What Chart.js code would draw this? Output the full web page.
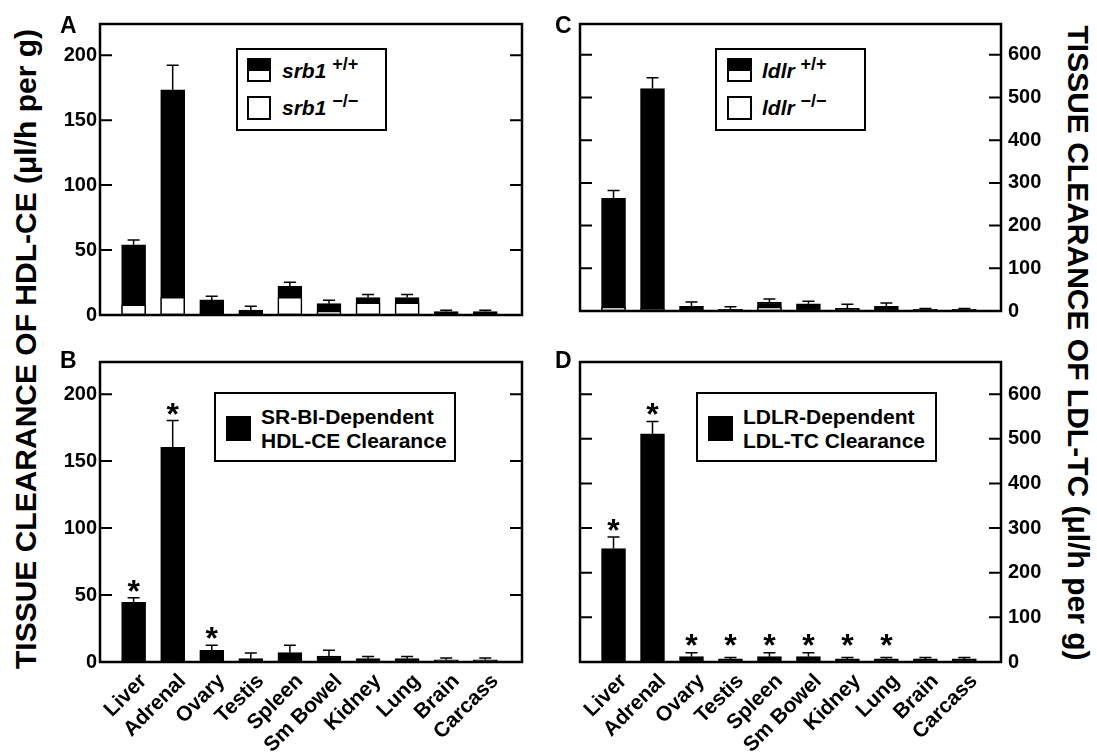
<!DOCTYPE html>
<html lang="en">
<head>
<meta charset="UTF-8" />
<title>Tissue clearance of HDL-CE and LDL-TC</title>
<script src="https://cdn.jsdelivr.net/npm/chart.js"></script>
<style>
  body { margin: 0; background: #fff; font-family: "Liberation Sans", Arial, sans-serif; color: #000; }
  #page { position: relative; width: 1097px; height: 755px; overflow: hidden; }
  canvas { position: absolute; }
  .letter { position: absolute; font-weight: bold; font-size: 23px; line-height: 1; }
  .ytitle { position: absolute; font-weight: bold; font-size: 30px; line-height: 30px; height: 30px;
            width: 700px; text-align: center; white-space: nowrap; }
  .box { position: absolute; border: 2px solid #000; box-sizing: border-box; background: #fff; }
  .sw { position: absolute; border: 2px solid #000; box-sizing: border-box; background: #fff; }
  .sw.half { background: linear-gradient(#000 0, #000 57%, #fff 57%); }
  .sw.full { background: #000; }
  .lt { position: absolute; font-weight: bold; font-size: 21px; line-height: 24px; white-space: nowrap; }
  .lt i sup { font-size: 18px; font-style: normal; vertical-align: 0; position: relative; top: -8px; }
</style>
</head>
<body>
<div id="page">
  <canvas id="chartA" width="490" height="330" style="left:50px;top:0px"></canvas>
  <canvas id="chartB" width="490" height="425" style="left:50px;top:330px"></canvas>
  <canvas id="chartC" width="491" height="330" style="left:560px;top:0px"></canvas>
  <canvas id="chartD" width="491" height="425" style="left:560px;top:330px"></canvas>

  <div class="letter" style="left:60px;top:14px">A</div>
  <div class="letter" style="left:60px;top:349px">B</div>
  <div class="letter" style="left:555px;top:14px">C</div>
  <div class="letter" style="left:555px;top:349px">D</div>

  <div class="ytitle" style="left:-324px;top:334px;transform:rotate(-90deg)">TISSUE CLEARANCE OF HDL-CE (μl/h per g)</div>
  <div class="ytitle" style="left:728px;top:328px;transform:rotate(90deg)">TISSUE CLEARANCE OF LDL-TC (μl/h per g)</div>

  <!-- legend A -->
  <div class="box" style="left:236px;top:48px;width:151px;height:83px"></div>
  <div class="sw half" style="left:247px;top:58px;width:24px;height:24px"></div>
  <div class="sw" style="left:247px;top:96px;width:24px;height:24px"></div>
  <div class="lt" style="left:282px;top:59px"><i>srb1 <sup>+/+</sup></i></div>
  <div class="lt" style="left:282px;top:96px"><i>srb1 <sup>−/−</sup></i></div>

  <!-- legend C -->
  <div class="box" style="left:715px;top:48px;width:151px;height:83px"></div>
  <div class="sw half" style="left:727px;top:58px;width:25px;height:24px"></div>
  <div class="sw" style="left:727px;top:96px;width:25px;height:24px"></div>
  <div class="lt" style="left:762px;top:59px"><i>ldlr <sup>+/+</sup></i></div>
  <div class="lt" style="left:762px;top:96px"><i>ldlr <sup>−/−</sup></i></div>

  <!-- legend B -->
  <div class="box" style="left:214px;top:392px;width:242px;height:70px"></div>
  <div class="sw full" style="left:226px;top:416px;width:25px;height:25px"></div>
  <div class="lt" style="left:261px;top:405px">SR-BI-Dependent<br>HDL-CE Clearance</div>

  <!-- legend D -->
  <div class="box" style="left:696px;top:392px;width:241px;height:70px"></div>
  <div class="sw full" style="left:708px;top:416px;width:25px;height:25px"></div>
  <div class="lt" style="left:743px;top:405px">LDLR-Dependent<br>LDL-TC Clearance</div>
</div>

<script>
const tissues = ['Liver', 'Adrenal', 'Ovary', 'Testis', 'Spleen', 'Sm Bowel', 'Kidney', 'Lung', 'Brain', 'Carcass'];

// A: HDL-CE clearance, srb1 +/+ (black) and srb1 -/- (white)
const srb1WT    = [54, 173.3, 11.6, 3.7, 22, 8.7, 13.4, 13.4, 2.7, 2.7];
const srb1WTsem = [3.7, 19, 2.8, 3, 3.2, 2.7, 2.4, 2.4, 1, 1];
const srb1KO    = [7.9, 13.6, 1.2, 1, 13.6, 3, 9.4, 9.4, 0.5, 0.5];

// B: SR-BI-dependent HDL-CE clearance
const srbiDep     = [44.6, 160.3, 8.7, 2.5, 7, 4.5, 2.5, 2.5, 1.7, 1.7];
const srbiDepSem  = [3.4, 20, 3.9, 4.2, 5.6, 4.2, 1.7, 1.7, 1.3, 1.3];
const srbiDepStar = [1, 1, 1, 0, 0, 0, 0, 0, 0, 0];

// C: LDL-TC clearance, ldlr +/+ (black) and ldlr -/- (white)
const ldlrWT    = [264, 521, 11, 4, 21, 17, 6, 11, 4, 4];
const ldlrWTsem = [18, 25, 10, 6, 7, 6, 10, 8, 2, 2];
const ldlrKO    = [9, 4.5, 2, 3, 9, 1, 3, 1, 1, 1];

// D: LDLR-dependent LDL-TC clearance
const ldlrDep     = [254, 511, 12, 7, 12, 12, 7, 7, 7, 7];
const ldlrDepSem  = [26, 28, 9, 3, 9, 9, 3, 3, 3, 3];
const ldlrDepStar = [1, 1, 1, 1, 1, 1, 1, 1, 0, 0];

const hdlMax = 224, hdlStep = 50;
const ldlMax = 672, ldlStep = 100;

const FONT = '"Liberation Sans", Arial, sans-serif';

function pts(vals) {
  return vals.map((v, i) => ({ x: i, y: v }));
}

// box, inward ticks, error bars, asterisks and slanted tissue labels
const framePlugin = {
  id: 'frame',
  afterDatasetsDraw(chart, args, opts) {
    const ctx = chart.ctx;
    const a = chart.chartArea;
    const xs = chart.scales.x, ys = chart.scales.y;
    ctx.save();
    ctx.strokeStyle = '#000';
    ctx.fillStyle = '#000';

    chart.data.datasets.forEach(ds => {
      if (!ds.sem) return;
      ds.data.forEach((p, i) => {
        const x = xs.getPixelForValue(p.x);
        const y0 = ys.getPixelForValue(p.y);
        const y1 = ys.getPixelForValue(p.y + ds.sem[i]);
        ctx.lineWidth = 1.5;
        ctx.beginPath();
        ctx.moveTo(x, y0);
        ctx.lineTo(x, y1);
        ctx.moveTo(x - 6, y1);
        ctx.lineTo(x + 6, y1);
        ctx.stroke();
        if (ds.star && ds.star[i]) {
          const yc = Math.min(y1 - 14, a.bottom - 24);
          ctx.font = 'bold 32px ' + FONT;
          ctx.textAlign = 'center';
          ctx.textBaseline = 'alphabetic';
          ctx.fillText('*', x, yc + 18);
        }
      });
    });

    ctx.lineWidth = 2;
    ys.ticks.forEach(t => {
      const y = ys.getPixelForValue(t.value);
      ctx.beginPath();
      ctx.moveTo(a.left, y);
      ctx.lineTo(a.left + 12, y);
      ctx.moveTo(a.right - 12, y);
      ctx.lineTo(a.right, y);
      ctx.stroke();
    });

    ctx.lineWidth = 2.5;
    ctx.strokeRect(a.left, a.top, a.right - a.left, a.bottom - a.top);

    if (opts.labels) {
      ctx.font = 'bold 21px ' + FONT;
      ctx.textAlign = 'right';
      ctx.textBaseline = 'alphabetic';
      tissues.forEach((t, i) => {
        ctx.save();
        ctx.translate(xs.getPixelForValue(i) + 14, a.bottom + 20);
        ctx.rotate(-Math.PI / 4);
        ctx.fillText(t, 0, 0);
        ctx.restore();
      });
    }
    ctx.restore();
  }
};

function panel(id, o) {
  return new Chart(document.getElementById(id), {
    type: 'bar',
    data: { datasets: o.datasets },
    options: {
      responsive: false,
      animation: false,
      layout: { padding: o.padding },
      plugins: { legend: { display: false }, tooltip: { enabled: false }, frame: { labels: o.labels } },
      scales: {
        x: { type: 'linear', min: -0.86, max: 9.94, offset: false, display: false },
        y: {
          position: o.side, min: 0, max: o.yMax,
          grid: { display: false, drawTicks: false },
          border: { display: false },
          afterFit: s => { s.width = 50; },
          ticks: {
            stepSize: o.step, includeBounds: false, padding: o.tickPad,
            color: '#000', font: { family: FONT, size: 20, weight: 'bold' }
          }
        }
      }
    },
    plugins: [framePlugin]
  });
}

const barBase = { grouped: false, barThickness: 24, borderColor: '#000', borderWidth: 1.5, borderSkipped: false };

panel('chartA', {
  side: 'left', yMax: hdlMax, step: hdlStep, tickPad: 3, labels: false,
  padding: { top: 24, right: 18, bottom: 5, left: 0 },
  datasets: [
    { ...barBase, label: 'srb1 -/-', data: pts(srb1KO), backgroundColor: '#fff' },
    { ...barBase, label: 'srb1 +/+', data: pts(srb1WT), sem: srb1WTsem, backgroundColor: '#000' }
  ]
});

panel('chartB', {
  side: 'left', yMax: hdlMax, step: hdlStep, tickPad: 3, labels: true,
  padding: { top: 32, right: 18, bottom: 93, left: 0 },
  datasets: [
    { ...barBase, label: 'SR-BI-Dependent HDL-CE Clearance', data: pts(srbiDep), sem: srbiDepSem, star: srbiDepStar, backgroundColor: '#000' }
  ]
});

panel('chartC', {
  side: 'right', yMax: ldlMax, step: ldlStep, tickPad: 7, labels: false,
  padding: { top: 24, right: 0, bottom: 5, left: 20 },
  datasets: [
    { ...barBase, label: 'ldlr -/-', data: pts(ldlrKO), backgroundColor: '#fff' },
    { ...barBase, label: 'ldlr +/+', data: pts(ldlrWT), sem: ldlrWTsem, backgroundColor: '#000' }
  ]
});

panel('chartD', {
  side: 'right', yMax: ldlMax, step: ldlStep, tickPad: 7, labels: true,
  padding: { top: 32, right: 0, bottom: 93, left: 20 },
  datasets: [
    { ...barBase, label: 'LDLR-Dependent LDL-TC Clearance', data: pts(ldlrDep), sem: ldlrDepSem, star: ldlrDepStar, backgroundColor: '#000' }
  ]
});
</script>
</body>
</html>
